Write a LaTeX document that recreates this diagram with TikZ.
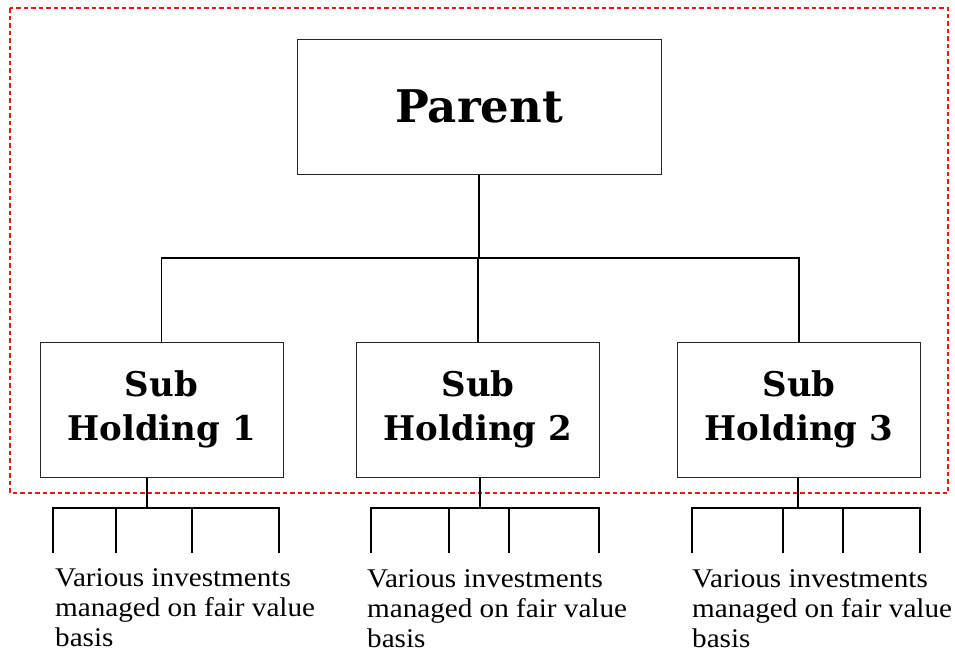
\documentclass[tikz,border=0pt]{standalone}
\usepackage{fontspec}
\setmainfont{Liberation Serif}
\newfontfamily\headfont{DejaVu Serif}
\newfontfamily\notefont{Liberation Serif}[FakeStretch=1.08]
\usetikzlibrary{positioning, calc}
\definecolor{framered}{RGB}{240, 20, 20}

\begin{document}
\begin{tikzpicture}[x=1pt, y=-1pt,
  unit/.style={draw=black!85, line width=1pt, inner sep=0pt, align=center},
  top/.style={unit, minimum width=364pt, minimum height=135pt,
              font=\headfont\bfseries\fontsize{45}{50}\selectfont},
  holding/.style={unit, minimum width=243pt, minimum height=135pt,
                  font=\headfont\bfseries\fontsize{34}{44}\selectfont},
  note/.style={inner sep=0pt, align=left, anchor=north west,
               font=\notefont\fontsize{27}{30}\selectfont},
  link/.style={line width=1.6pt, black},
  frame/.style={draw=framered, line width=1.2pt, dash pattern=on 4.5pt off 3pt}
]
  \useasboundingbox (0,0) rectangle (955,653);

  % group boundary
  \draw[frame] (10,8) rectangle (948,493);

  \node[top] (parent) at (479,106.5) {Parent};

  \node[holding] (sub1) at (161.5,409.5) {Sub\\Holding 1};
  \node[holding] (sub2) at (478,409.5) {Sub\\Holding 2};
  \node[holding] (sub3) at (799,409.5) {Sub\\Holding 3};

  % parent to subs
  \coordinate (bus) at (479,258);
  \draw[link] (parent.south) -- (bus);
  \draw[link] (sub1.north) |- (bus) -| (sub3.north);
  \draw[link] (sub2.north) -- (sub2.north |- bus);

  % investments under each sub
  \foreach \n/\sx/\la/\lb/\lc/\ld in {1/147/53/116/192/279,
                                      2/480/371/449/509/599,
                                      3/798/692/783/843/920} {
    \coordinate (fork\n) at (\sx,508);
    \foreach \l [count=\k] in {\la,\lb,\lc,\ld}
      \coordinate (leaf\n\k) at (\l,553);
    \draw[link] (sub\n.south -| fork\n) -- (fork\n);
    \draw[link] (leaf\n1) |- (leaf\n4 |- fork\n) -- (leaf\n4);
    \draw[link] (leaf\n2) -- (leaf\n2 |- fork\n);
    \draw[link] (leaf\n3) -- (leaf\n3 |- fork\n);
  }

  \node[note] (inv1) at (55,568) {Various investments\\managed on fair value\\basis};
  \node[note] (inv2) at (367,569) {Various investments\\managed on fair value\\basis};
  \node[note] (inv3) at (692,569) {Various investments\\managed on fair value\\basis};
\end{tikzpicture}
\end{document}
